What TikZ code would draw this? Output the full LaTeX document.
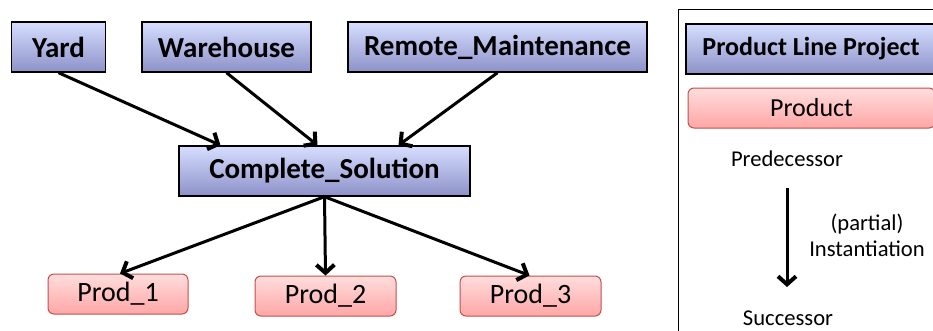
\documentclass[tikz,border=0pt]{standalone}
\usepackage{fontspec}
\setmainfont{Carlito}
\usetikzlibrary{arrows.meta}
\definecolor{bluetop}{HTML}{D6DEFF}
\definecolor{bluemid}{HTML}{C6CDF5}
\definecolor{bluebot}{HTML}{8D91C8}
\definecolor{redtop}{HTML}{FFDDDD}
\definecolor{redbot}{HTML}{FFA6A6}
\definecolor{redline}{HTML}{C0504D}
\tikzset{
  bluebox/.style={draw=black, line width=1.4pt, top color=bluetop, middle color=bluemid, bottom color=bluebot,
    inner sep=0pt, minimum height=50pt, font=\fontsize{29}{34}\selectfont\bfseries},
  redbox/.style={draw=redline, line width=1pt, rounded corners=6pt, top color=redtop, bottom color=redbot,
    inner sep=0pt, minimum height=40pt, font=\fontsize{28}{33}\selectfont},
  arr/.style={line width=3pt, -{Straight Barb[length=8pt,width=18pt,line width=4pt]}},
  legtext/.style={inner sep=0pt, font=\fontsize{22.6}{26}\selectfont, align=center}
}
\begin{document}
\begin{tikzpicture}[x=1pt,y=-1pt]
\useasboundingbox (0,0) rectangle (933,330);
\begin{scope}
\clip (0,0) rectangle (933,330);
% legend frame
\draw[line width=1pt] (678,9) rectangle (950,345);
\node[bluebox, minimum width=250pt, font=\fontsize{26}{31}\selectfont\bfseries] (plp) at (811,49) {Product Line Project};
\node[redbox, minimum width=247pt, font=\fontsize{26}{31}\selectfont] (prod) at (811.5,108) {Product};
\end{scope}
\node[legtext] (pred) at (787,159) {Predecessor};
\node[legtext] (succ) at (788,318) {Successor};
\coordinate (la) at (787,188);
\coordinate (lb) at (787,287);
\draw[arr] (la) -- (lb);
\node[legtext] (inst) at (867,235) {(partial)\\Instantiation};

% top boxes
\node[bluebox, minimum width=94pt] (yard) at (58.5,47) {Yard};
\node[bluebox, minimum width=169pt] (ware) at (226.5,47) {Warehouse};
\node[bluebox, minimum width=299pt] (remote) at (497.5,47) {Remote\_Maintenance};
\node[bluebox, minimum width=291pt] (cs) at (324.5,171) {Complete\_Solution};
% products
\node[redbox, minimum width=140pt] (p1) at (118,294) {Prod\_1};
\node[redbox, minimum width=141pt] (p2) at (325.5,296) {Prod\_2};
\node[redbox, minimum width=141pt] (p3) at (530.5,296) {Prod\_3};

\draw[arr] (yard.south) -- ([xshift=-104pt]cs.north);
\draw[arr] (ware.south) -- ([xshift=-7pt]cs.north);
\draw[arr] (remote.south) -- ([xshift=74pt]cs.north);
\draw[arr] (cs.south) -- ([xshift=2pt]p1.north);
\draw[arr] (cs.south) -- (p2.north);
\draw[arr] (cs.south) -- ([xshift=-1pt]p3.north);
\end{tikzpicture}
\end{document}
